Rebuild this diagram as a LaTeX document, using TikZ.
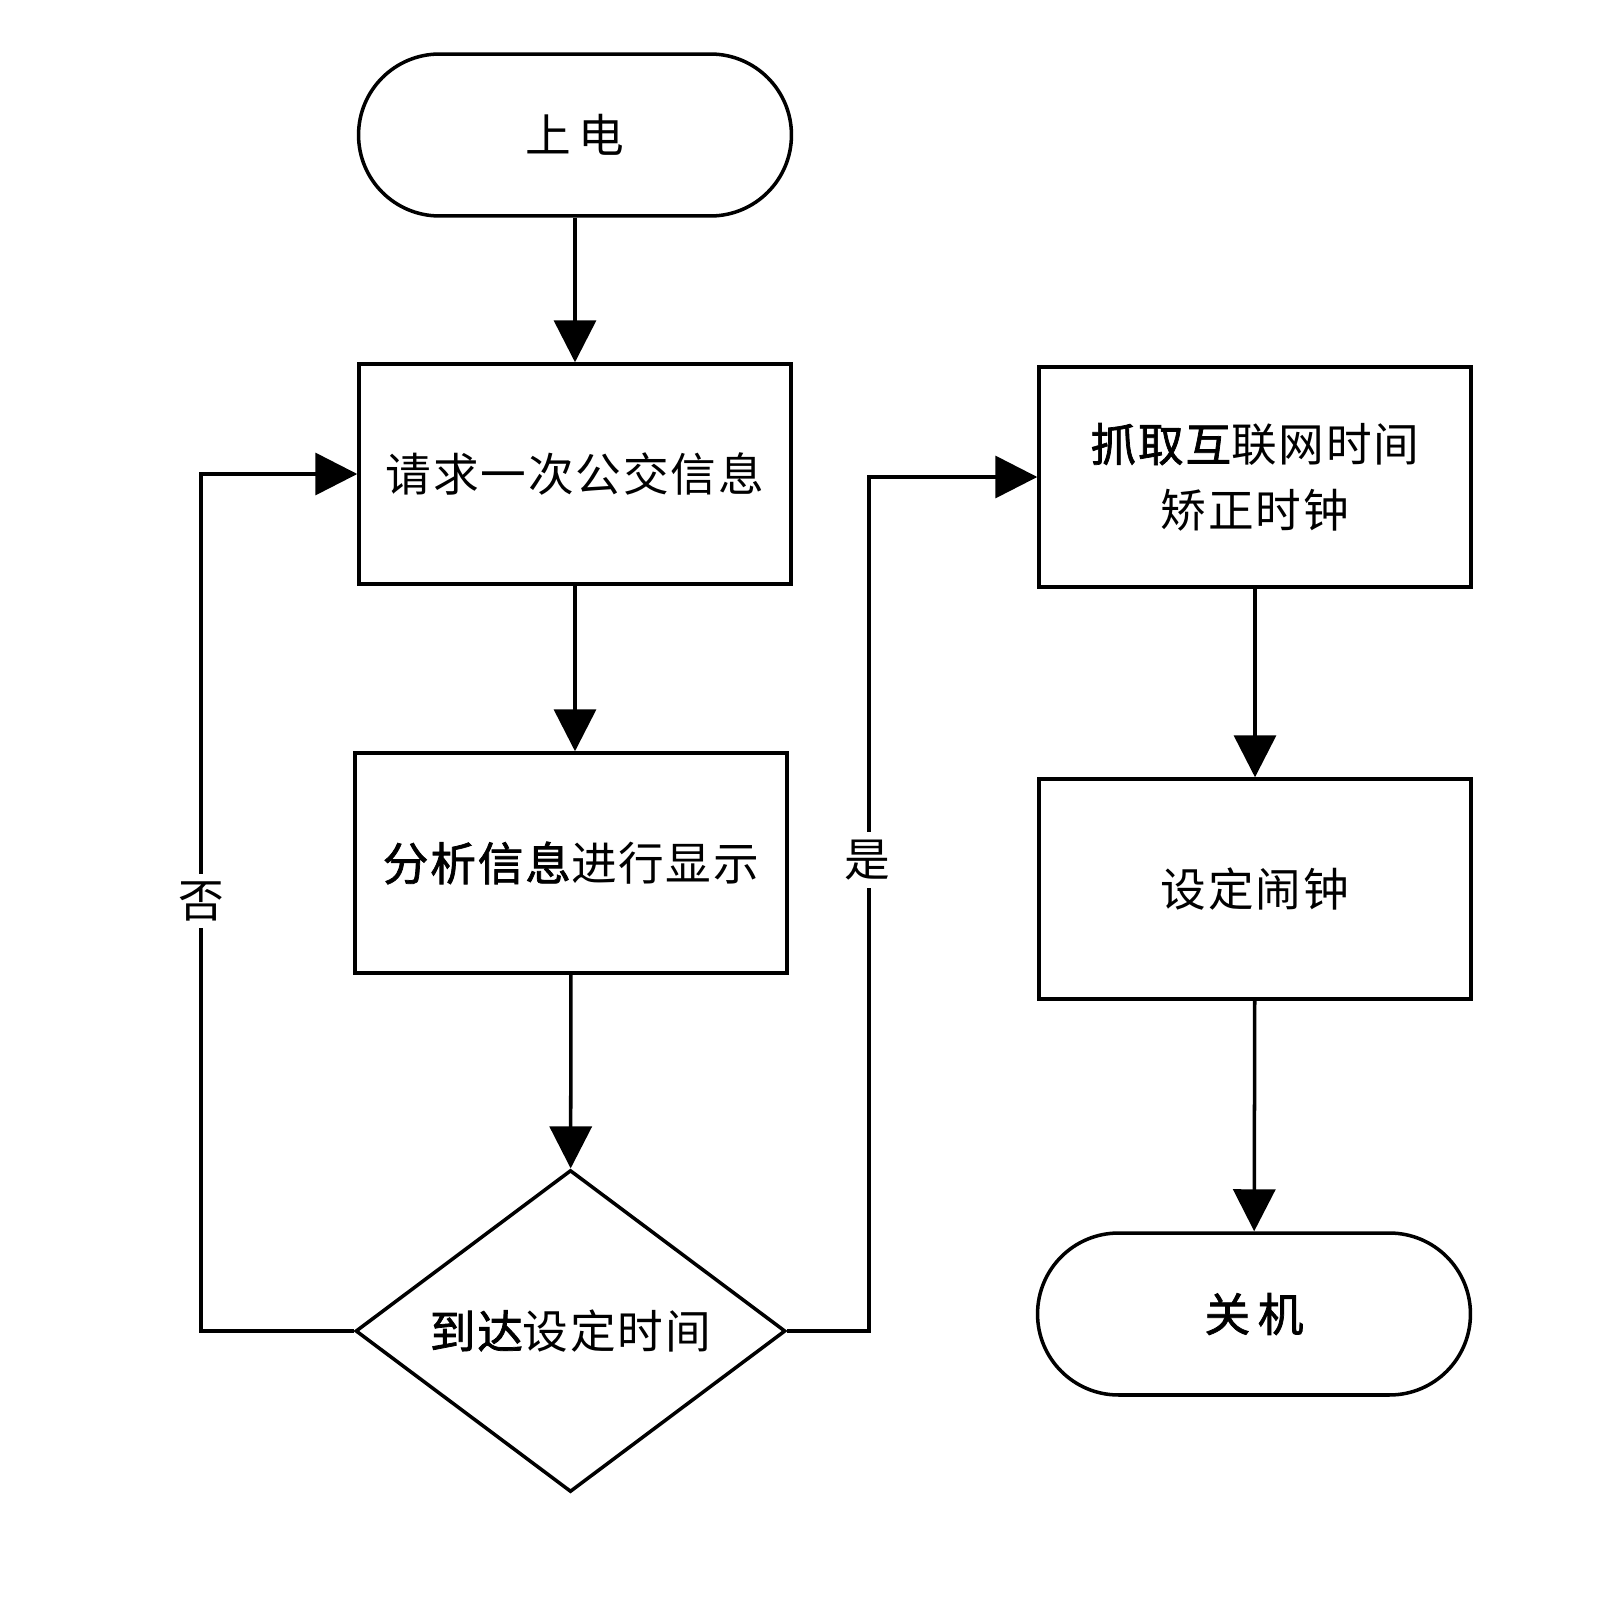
\documentclass[tikz,border=0pt]{standalone}
\usepackage{fontspec}
\setmainfont{Noto Sans CJK SC}[LetterSpace=4]
\newfontfamily\cjkbold{Noto Sans CJK SC}[FakeBold=1.6,LetterSpace=4]
\newcommand{\hv}[1]{{\cjkbold #1}}
\usetikzlibrary{
    arrows.meta,
    shapes.geometric
}

\begin{document}
\begin{tikzpicture}[
    x=0.02cm,
    y=-0.02cm,
    font=\fontsize{26}{37.4}\selectfont,
    terminal/.style={
        rectangle,
        rounded corners=1.62cm,
        draw=black,
        line width=2pt,
        align=center,
        minimum width=8.66cm,
        minimum height=3.24cm
    },
    process/.style={
        rectangle,
        draw=black,
        line width=2pt,
        align=center,
        minimum width=8.64cm,
        minimum height=4.4cm
    },
    decision/.style={
        diamond,
        aspect=1.335,
        draw=black,
        line width=2pt,
        inner sep=0pt,
        minimum width=8.6cm,
        minimum height=6.44cm
    },
    arrow/.style={
        -{Triangle[length=0.84cm,width=0.84cm]},
        line width=2pt,
        draw=black
    },
    note/.style={
        fill=white,
        inner sep=0.15cm
    }
]
\useasboundingbox (0,0) rectangle (1606,1602);

% =========================================================
% Main loop (left column)
% =========================================================
\node[terminal] (power) at (575,135) {上\,电};

\node[process] (request) at (575,474) {请求一次公交信息};

\node[process] (show) at (571,863) {\hv{分析信息}进行显示};

\node[decision] (reach) at (570.5,1331) {\hv{到达}设定时间};

% =========================================================
% Clock jobs (right column)
% =========================================================
\node[process] (fetch) at (1255,477) {\hv{抓取互}联网时间\\矫正时钟};

\node[process] (alarm) at (1255,889) {设定闹钟};

\node[terminal] (off) at (1254,1314) {\hv{关\,机}};

% =========================================================
% Straight arrows
% =========================================================
\draw[arrow] (power) -- (request);
\draw[arrow] (request.south) -- (request.south |- show.north);
\draw[arrow] (show) -- (reach);

\draw[arrow] (fetch) -- (alarm);
\draw[arrow] (alarm) -- (off);

% =========================================================
% Branches
% =========================================================
\draw[arrow] (reach.west) -- ++(-153,0) |- (request.west);
\node[note] (no) at (201,901) {否};

\draw[arrow] (reach.east) -- ++(82,0) |- (fetch.west);
\node[note] (yes) at (867,860) {是};

\end{tikzpicture}
\end{document}
